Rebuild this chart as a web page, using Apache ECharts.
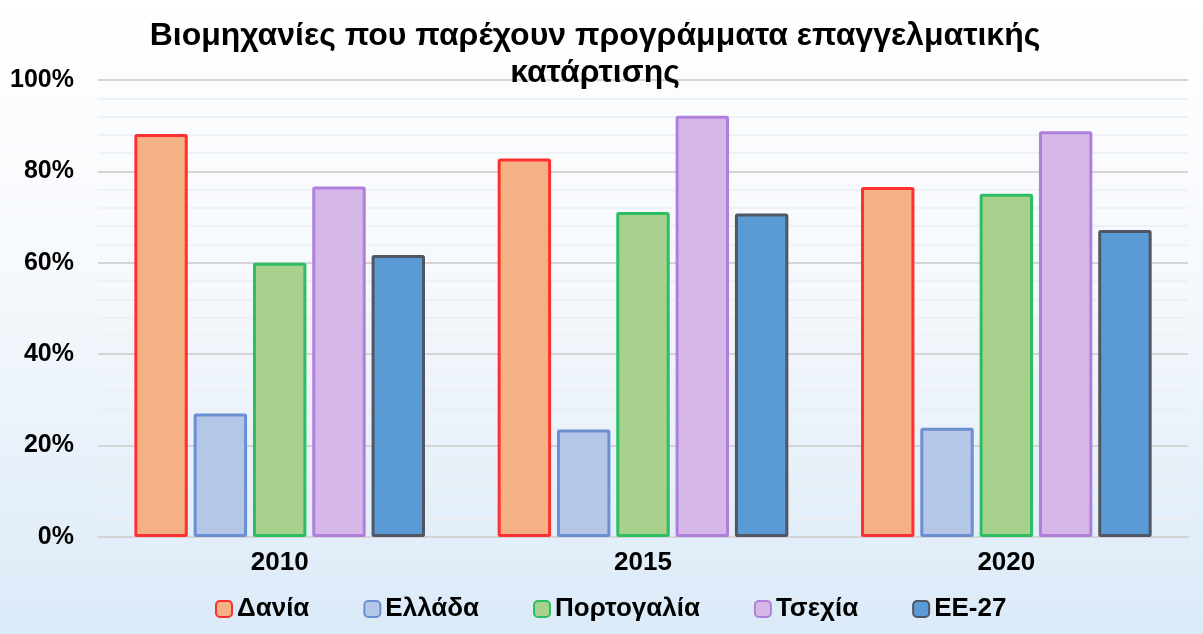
<!DOCTYPE html>
<html>
<head>
<meta charset="utf-8">
<script src="https://cdn.jsdelivr.net/npm/echarts@6/dist/echarts.min.js"></script>
<style>
html, body { margin: 0; padding: 0; }
#main { width: 1203px; height: 634px; }
</style>
</head>
<body>
<div id="main"></div>
<script>
var years = ['2010', '2015', '2020'];
var countries = ['Δανία', 'Ελλάδα', 'Πορτογαλία', 'Τσεχία', 'ΕΕ-27'];
var denmark = [88.2, 82.8, 76.6];
var greece = [27.0, 23.5, 23.9];
var portugal = [60.0, 71.1, 75.1];
var czechia = [76.7, 92.2, 88.8];
var eu27 = [61.7, 70.8, 67.2];
var fills = ['#F4B183', '#B4C7E7', '#A9D18E', '#D5B8E8', '#5B9BD5'];
var borders = ['#FF3030', '#6A8FD2', '#2DBD62', '#B07FDB', '#4E5763'];

var chart = echarts.init(document.getElementById('main'));
var allData = [denmark, greece, portugal, czechia, eu27];
var font = '"Liberation Sans", Arial, sans-serif';

var series = [];
for (var i = 0; i < countries.length; i++) {
	series.push({
		name: countries[i],
		type: 'bar',
		barCategoryGap: '20%',
		barGap: '11%',
		itemStyle: {
			color: fills[i],
			borderColor: borders[i],
			borderWidth: 3,
			borderRadius: 1
		},
		data: allData[i]
	});
}

var option = {
	backgroundColor: {
		type: 'linear', x: 0, y: 0, x2: 0, y2: 1,
		colorStops: [
			{ offset: 0, color: '#ffffff' },
			{ offset: 0.45, color: '#f5f8fc' },
			{ offset: 1, color: '#dbeaf8' }
		]
	},
	title: {
		text: 'Βιομηχανίες που παρέχουν προγράμματα επαγγελματικής\nκατάρτισης',
		left: 590,
		textAlign: 'center',
		top: 13,
		textStyle: {
			fontFamily: font,
			fontSize: 32,
			fontWeight: 'bold',
			color: '#000',
			lineHeight: 37
		}
	},
	legend: {
		bottom: 7,
		left: 210,
		itemWidth: 16,
		itemHeight: 16,
		itemGap: 54,
		icon: 'roundRect',
		textStyle: {
			fontFamily: font,
			fontSize: 26,
			fontWeight: 'bold',
			color: '#000'
		},
		data: countries
	},
	grid: {
		left: 98,
		right: 15,
		top: 80,
		bottom: 97
	},
	xAxis: {
		type: 'category',
		data: years,
		axisTick: { show: false },
		axisLine: { lineStyle: { color: '#d4d4d4', width: 2 } },
		axisLabel: {
			margin: 13,
			fontFamily: font,
			fontSize: 26,
			fontWeight: 'bold',
			color: '#000'
		}
	},
	yAxis: {
		type: 'value',
		min: 0,
		max: 100,
		interval: 20,
		axisLabel: {
			margin: 24,
			formatter: '{value}%',
			fontFamily: font,
			fontSize: 25,
			fontWeight: 'bold',
			color: '#000'
		},
		splitLine: { lineStyle: { color: '#d4d4d4', width: 2 } },
		minorTick: { show: false, splitNumber: 5 },
		minorSplitLine: { show: true, lineStyle: { color: 'rgba(236,240,244,0.9)', width: 2 } }
	},
	series: series
};

chart.setOption(option);
</script>
</body>
</html>
